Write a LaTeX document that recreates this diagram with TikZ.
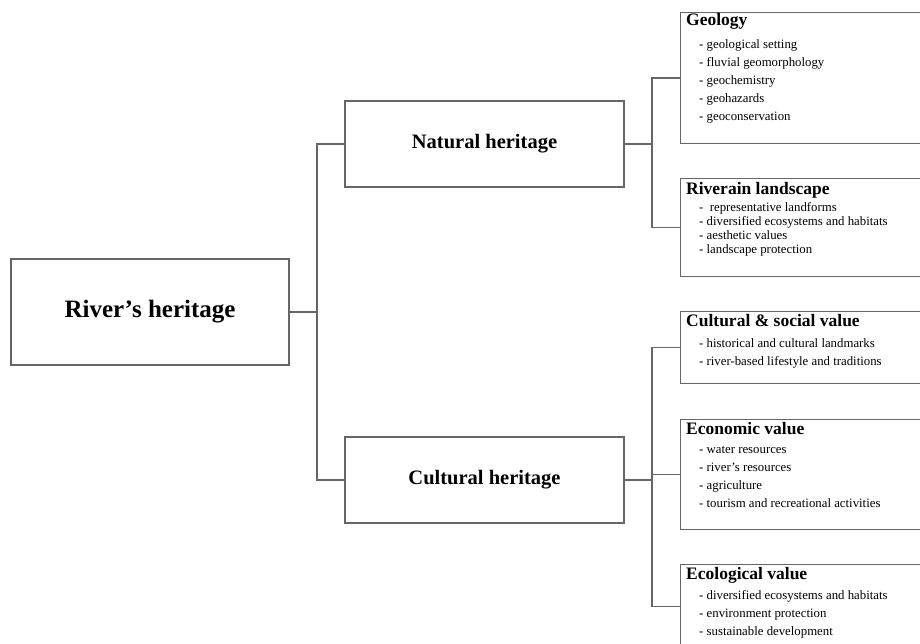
\documentclass[tikz,border=0pt]{standalone}
\usepackage{fontspec}
\setmainfont{Liberation Serif}
\tikzset{
  heritbox/.style={draw=black!60, line width=1.2pt, inner sep=0pt},
  topic/.style={font=\bfseries\fontsize{17.5}{20}\selectfont, inner sep=0pt, anchor=base west},
  items/.style={font=\fontsize{12.8}{18}\selectfont, inner sep=0pt, align=left, anchor=north west},
  link/.style={draw=black!60, line width=1.2pt}
}

\begin{document}
\begin{tikzpicture}[x=1pt,y=-1pt]
  \useasboundingbox (0,0) rectangle (920,644);
  \clip (0,0) rectangle (920,644);
  % main boxes
  \node[heritbox, minimum width=278pt, minimum height=106pt, font=\bfseries\fontsize{25}{30}\selectfont] (river) at (150,312) {River’s heritage};
  \node[heritbox, minimum width=279pt, minimum height=86pt, font=\bfseries\fontsize{20.5}{24}\selectfont] (natural) at (484.5,144) {Natural heritage};
  \node[heritbox, minimum width=279pt, minimum height=86pt, font=\bfseries\fontsize{20.5}{24}\selectfont] (cultural) at (484.5,480) {Cultural heritage};

  % sub boxes (cut off at the right edge)
  \node[heritbox, anchor=north west, minimum width=260pt, minimum height=131pt] (geology) at (680,12) {};
  \node[heritbox, anchor=north west, minimum width=260pt, minimum height=98pt] (riverain) at (680,178) {};
  \node[heritbox, anchor=north west, minimum width=260pt, minimum height=72pt] (social) at (680,311) {};
  \node[heritbox, anchor=north west, minimum width=260pt, minimum height=110pt] (economic) at (680,419) {};
  \node[heritbox, anchor=north west, minimum width=260pt, minimum height=84pt] (ecological) at (680,564) {};

  % titles and lists
  \node[topic] (geologyT) at (686,26) {Geology};
  \node[items] (geologyL) at (699,39.5) {- geological setting\\- fluvial geomorphology\\- geochemistry\\- geohazards\\- geoconservation};
  \node[topic] (riverainT) at (686,195) {Riverain landscape};
  \node[items, font=\fontsize{12.8}{14}\selectfont] (riverainL) at (699,202) {-\ \ representative landforms\\- diversified ecosystems and habitats\\- aesthetic values\\- landscape protection};
  \node[topic] (socialT) at (686,326) {Cultural \& social value};
  \node[items] (socialL) at (699,338) {- historical and cultural landmarks\\- river-based lifestyle and traditions};
  \node[topic] (economicT) at (686,434) {Economic value};
  \node[items] (economicL) at (699,446) {- water resources\\- river’s resources\\- agriculture\\- tourism and recreational activities};
  \node[topic] (ecologicalT) at (686,579) {Ecological value};
  \node[items] (ecologicalL) at (699,590) {- diversified ecosystems and habitats\\- environment protection\\- sustainable development};

  % connectors
  \coordinate (trunk) at (317,312);
  \coordinate (upper) at (652,144);
  \coordinate (lower) at (652,480);
  \draw[link] (river.east) -- (trunk);
  \draw[link] (natural.west) -| (trunk) |- (cultural.west);
  \draw[link] (natural.east) -- (upper);
  \draw[link] (geology.west) -| (upper) |- (riverain.west);
  \draw[link] (cultural.east) -- (lower);
  \draw[link] (social.west) -| (lower) |- (ecological.west);
  \draw[link] (economic.west) -- (economic.west -| lower);
\end{tikzpicture}
\end{document}
